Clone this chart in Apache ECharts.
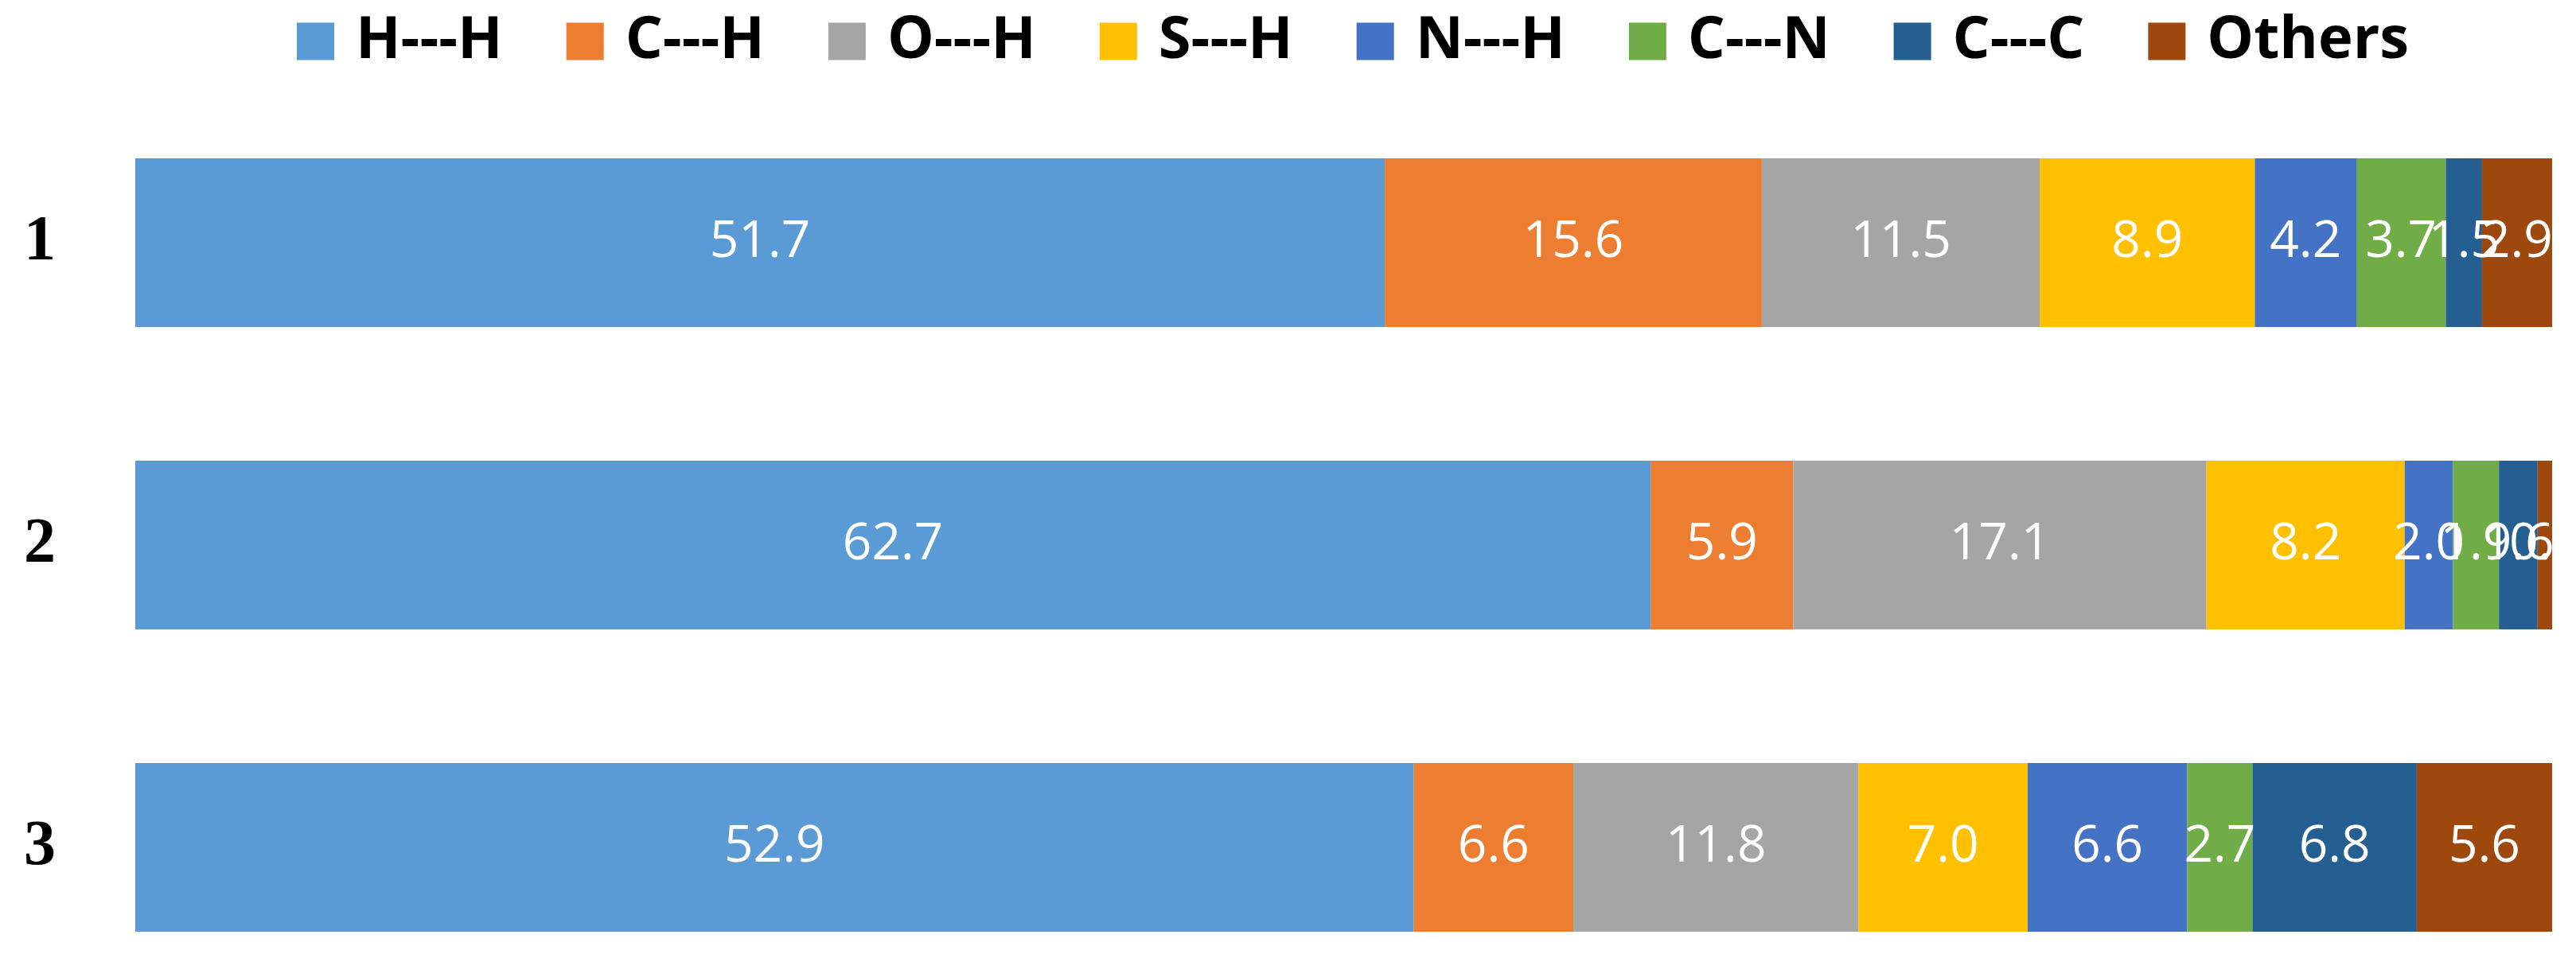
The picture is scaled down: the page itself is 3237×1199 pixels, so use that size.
<!DOCTYPE html>
<html><head><meta charset="utf-8">
<script src="https://cdn.jsdelivr.net/npm/echarts@6/dist/echarts.min.js"></script>
<style>html,body{margin:0;padding:0;background:#fff}#c{width:3237px;height:1199px}</style>
</head><body><div id="c"></div>
<script>
const categories = ['1', '2', '3'];
const seriesNames = ['H---H', 'C---H', 'O---H', 'S---H', 'N---H', 'C---N', 'C---C', 'Others'];
const HH = [51.7, 62.7, 52.9];
const CH = [15.6, 5.9, 6.6];
const OH = [11.5, 17.1, 11.8];
const SH = [8.9, 8.2, 7.0];
const NH = [4.2, 2.0, 6.6];
const CN = [3.7, 1.9, 2.7];
const CC = [1.5, 1.6, 6.8];
const Others = [2.9, 0.6, 5.6];
const values = [HH, CH, OH, SH, NH, CN, CC, Others];
const colors = ['#5B9BD5', '#ED7D31', '#A5A5A5', '#FFC000', '#4472C4', '#70AD47', '#255E91', '#9E480E'];

const chart = echarts.init(document.getElementById('c'));
chart.setOption({
  animation: false,
  color: colors,
  legend: {
    top: 10, left: 368,
    icon: 'rect', itemWidth: 47, itemHeight: 47, itemGap: 80,
    textStyle: { fontFamily: 'Open Sans', fontWeight: 'bold', fontSize: 74, color: '#000', padding: [0, 0, 0, 22] },
    data: seriesNames
  },
  grid: { left: 170, right: 30, top: 115, height: 1140, outerBoundsMode: 'none' },
  xAxis: { type: 'value', min: 0, max: 100, show: false },
  yAxis: {
    type: 'category', data: categories, inverse: true,
    axisLine: { show: false }, axisTick: { show: false },
    axisLabel: { fontFamily: 'Liberation Serif', fontWeight: 'bold', fontSize: 80, color: '#000', margin: 100, padding: [16, 0, 0, 0] }
  },
  series: seriesNames.map((n, i) => ({
    name: n, type: 'bar', stack: 'total', barWidth: 212,
    data: values[i],
    label: {
      show: true, position: 'inside', color: '#fff',
      fontFamily: 'Open Sans', fontSize: 64,
      formatter: p => p.value.toFixed(1)
    }
  }))
});
</script></body></html>
